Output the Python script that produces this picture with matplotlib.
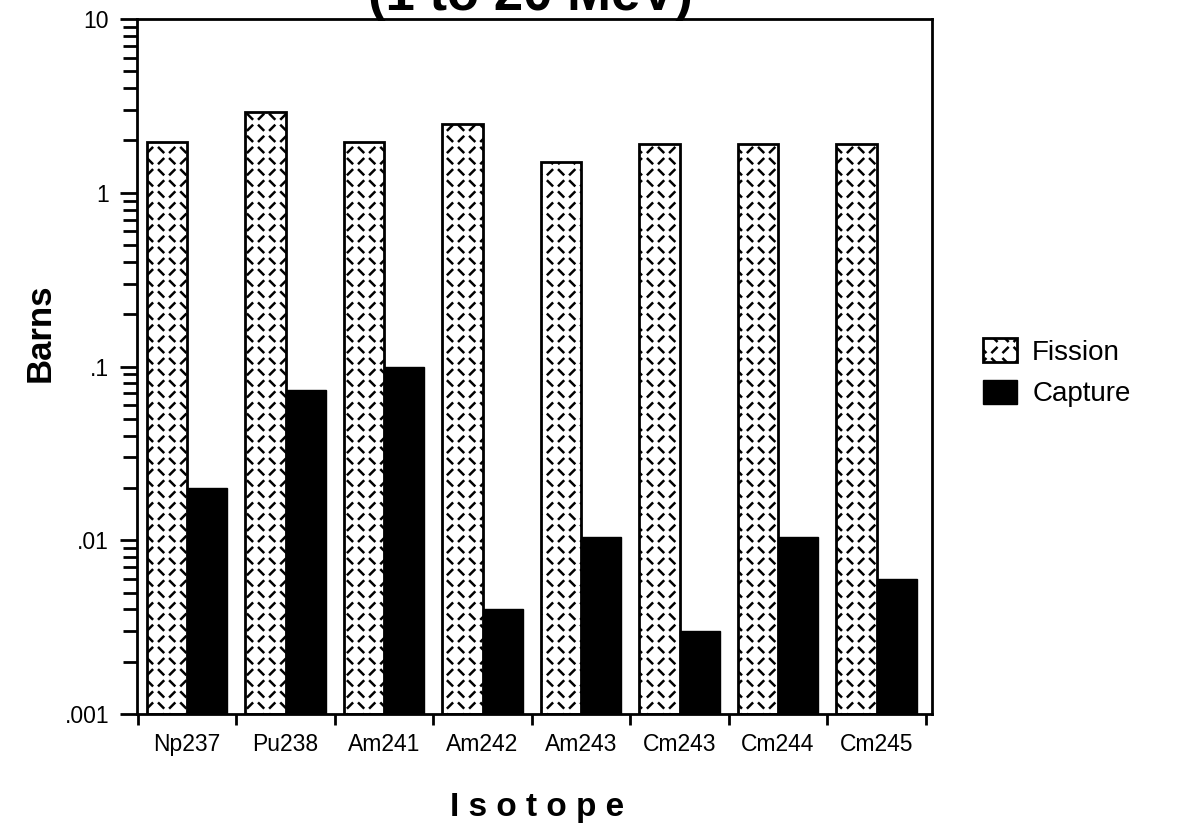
import numpy as np
import matplotlib
matplotlib.use('Agg')
from matplotlib import pyplot as plt
from matplotlib import hatch as mhatch
from matplotlib.path import Path
from matplotlib.ticker import FixedLocator, LogLocator, NullFormatter

isotopes = ['Np237', 'Pu238', 'Am241', 'Am242', 'Am243', 'Cm243', 'Cm244', 'Cm245']
fission = [1.95, 2.9, 1.95, 2.5, 1.5, 1.9, 1.9, 1.9]
capture = [0.02, 0.073, 0.1, 0.004, 0.0105, 0.003, 0.0105, 0.006]
y_ticks = [0.001, 0.01, 0.1, 1, 10]
y_tick_labels = ['.001', '.01', '.1', '1', '10']
title = '(1 to 20 MeV)'


class DiamondPlateHatch(mhatch.HatchPatternBase):
    # checkerboard of short "/" and "\" dashes, used for the '*' hatch symbol
    def __init__(self, hatch, density):
        self.num_cells = int(round(hatch.count('*') * density * 9 / 6))
        self.num_vertices = 2 * self.num_cells ** 2

    def set_vertices_and_codes(self, vertices, codes):
        n = self.num_cells
        half = 0.2 / n
        k = 0
        for i in range(n):
            for j in range(n):
                cx = (i + 0.5) / n
                cy = (j + 0.5) / n
                sign = 1 if (i + j) % 2 == 0 else -1
                vertices[k] = (cx - half, cy - sign * half)
                vertices[k + 1] = (cx + half, cy + sign * half)
                codes[k] = Path.MOVETO
                codes[k + 1] = Path.LINETO
                k += 2


mhatch._hatch_types = [DiamondPlateHatch]

plt.rcParams['font.family'] = ['Liberation Sans', 'DejaVu Sans']
plt.rcParams['hatch.linewidth'] = 1.8

W, H = 1179, 833
fig = plt.figure(figsize=(W / 100, H / 100), dpi=100)
ax = fig.add_axes([137 / W, 1 - 714 / H, (932 - 137) / W, (714 - 19) / H])
ax.set_yscale('log')

x = np.arange(len(isotopes))
width = 0.41
ax.bar(x - width / 2, np.array(fission) - y_ticks[0], width, bottom=y_ticks[0],
       facecolor='white', edgecolor='black', linewidth=2, hatch='*', label='Fission')
ax.bar(x + width / 2, np.array(capture) - y_ticks[0], width, bottom=y_ticks[0],
       facecolor='black', edgecolor='black', linewidth=1, label='Capture')

ax.set_ylim(y_ticks[0], y_ticks[-1])
ax.set_xlim(-0.508, 7.563)

# y axis: decades labelled, 2..9 minor ticks
ax.yaxis.set_major_locator(FixedLocator(y_ticks))
ax.set_yticklabels(y_tick_labels, fontsize=16.5)
ax.yaxis.set_minor_locator(LogLocator(base=10, subs=np.arange(2, 10)))
ax.yaxis.set_minor_formatter(NullFormatter())
ax.tick_params(axis='y', which='major', length=12, width=2, pad=8)
ax.tick_params(axis='y', which='minor', length=10, width=2)

# x axis: labels at group centres, tick marks between groups
ax.set_xticks(x)
ax.set_xticklabels(isotopes, fontsize=16.5)
ax.xaxis.set_minor_locator(FixedLocator(np.arange(len(isotopes) + 1) - 0.5))
ax.tick_params(axis='x', which='major', length=0, pad=14)
ax.tick_params(axis='x', which='minor', length=8, width=2)

for spine in ax.spines.values():
    spine.set_linewidth(2)

fig.text(530 / W, 1 - 10 / H, title, ha='center', va='baseline',
         fontsize=38, fontweight='bold')
fig.text(40 / W, 1 - 333 / H, 'Barns', rotation=90, ha='center', va='center',
         fontsize=25, fontweight='bold')
fig.text(537 / W, 1 - 816 / H, 'I s o t o p e', ha='center', va='baseline',
         fontsize=24, fontweight='bold')

fig.legend(loc='upper left', bbox_to_anchor=(983 / W, 1 - 338 / H), frameon=False,
           borderpad=0, borderaxespad=0, fontsize=20, handlelength=1.22,
           handleheight=0.97, handletextpad=0.55, labelspacing=0.5)

fig.savefig('out.png', dpi=100)
